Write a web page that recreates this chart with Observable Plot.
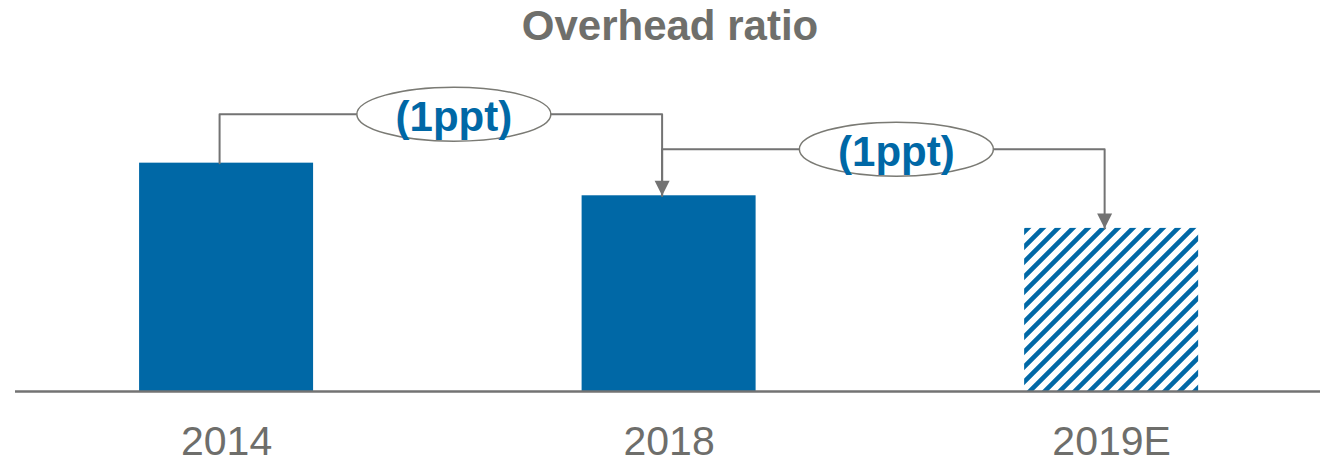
<!DOCTYPE html>
<html><head><meta charset="utf-8">
<script src="https://cdn.jsdelivr.net/npm/d3@7"></script>
<script src="https://cdn.jsdelivr.net/npm/@observablehq/plot@0.6"></script>
<style>
body{margin:0;background:#fff;font-family:"Liberation Sans",Arial,sans-serif;}
#title{height:56px;line-height:51px;font-size:42px;font-weight:bold;color:#6f6f6b;text-align:center;padding-left:20px;box-sizing:border-box;width:1320px;}
</style></head><body>
<div id="title">Overhead ratio</div>
<div id="chart"></div>
<script>
// Data
const years = ["2014", "2018", "2019E"];
const positions = [0, 1, 2];
const values = [7, 6, 5];
const projected = [false, false, true];
const changeLabels = ["(1ppt)", "(1ppt)"];
const connectorLevels = [8.5, 7.43];

// Styles
const BLUE = "#0068a6";
const GRAY = "#737373";
const TEXT_GRAY = "#6e6e6b";
const BAR_HALF = 0.1966;

const bars = years.map((yr, i) => ({year: yr, pos: positions[i], value: values[i], projected: projected[i]}));

const connPoints = [];
const arrows = [];
const labels = [];
changeLabels.forEach((lab, i) => {
  const a = positions[i], b = positions[i + 1];
  const lvl = connectorLevels[i];
  connPoints.push({g: i, x: a, y: values[i]}, {g: i, x: a, y: lvl}, {g: i, x: b, y: lvl}, {g: i, x: b, y: values[i + 1]});
  arrows.push({x: b, y: values[i + 1]});
  labels.push({x: (a + b) / 2, y: lvl, text: lab});
});

const arrowSymbol = {draw(ctx) { ctx.moveTo(-7.5, -15); ctx.lineTo(7.5, -15); ctx.lineTo(0, 0); ctx.closePath(); }};
const ellipseSymbol = {draw(ctx) {
  const rx = 97, ry = 27, k = 0.5523;
  ctx.moveTo(rx, 0);
  ctx.bezierCurveTo(rx, ry * k, rx * k, ry, 0, ry);
  ctx.bezierCurveTo(-rx * k, ry, -rx, ry * k, -rx, 0);
  ctx.bezierCurveTo(-rx, -ry * k, -rx * k, -ry, 0, -ry);
  ctx.bezierCurveTo(rx * k, -ry, rx, -ry * k, rx, 0);
  ctx.closePath();
}};

const chart = Plot.plot({
  width: 1320,
  height: 407,
  marginLeft: 15,
  marginRight: 0,
  marginTop: 0,
  marginBottom: 72,
  style: {fontFamily: "'Liberation Sans', Arial, sans-serif", background: "#fff", overflow: "visible"},
  x: {domain: [-0.477, 2.472], axis: null},
  y: {domain: [0, 10.27], axis: null},
  marks: [
    Plot.rectY(bars.filter(d => !d.projected), {x1: d => d.pos - BAR_HALF, x2: d => d.pos + BAR_HALF, y1: 0, y2: "value", fill: BLUE}),
    Plot.rectY(bars.filter(d => d.projected), {x1: d => d.pos - BAR_HALF, x2: d => d.pos + BAR_HALF, y1: 0, y2: "value", fill: "url(#hatch)"}),
    Plot.ruleY([0], {stroke: GRAY, strokeWidth: 2.6}),
    Plot.axisX({ticks: positions, tickFormat: i => years[i], tickSize: 0, tickPadding: 34, fontSize: 41, fill: TEXT_GRAY, label: null}),
    Plot.line(connPoints, {x: "x", y: "y", z: "g", stroke: GRAY, strokeWidth: 2, dx: -7}),
    Plot.dot(arrows, {x: "x", y: "y", symbol: arrowSymbol, fill: GRAY, stroke: "none", dx: -7}),
    Plot.dot(labels, {x: "x", y: "y", symbol: ellipseSymbol, fill: "#fff", stroke: "#7a7a74", strokeWidth: 1.5, dx: 6}),
    Plot.text(labels, {x: "x", y: "y", text: "text", fontSize: 42, fontWeight: "bold", fill: BLUE, dx: 6, dy: 3})
  ]
});

const ns = "http://www.w3.org/2000/svg";
const defs = document.createElementNS(ns, "defs");
defs.innerHTML = `<pattern id="hatch" patternUnits="userSpaceOnUse" width="15" height="15"><rect width="15" height="15" fill="#fff"/><path d="M-3.75,3.75 l7.5,-7.5 M0,15 l15,-15 M11.25,18.75 l7.5,-7.5" stroke="${BLUE}" stroke-width="4.6"/></pattern>`;
chart.prepend(defs);
document.getElementById("chart").appendChild(chart);
</script>
</body></html>
